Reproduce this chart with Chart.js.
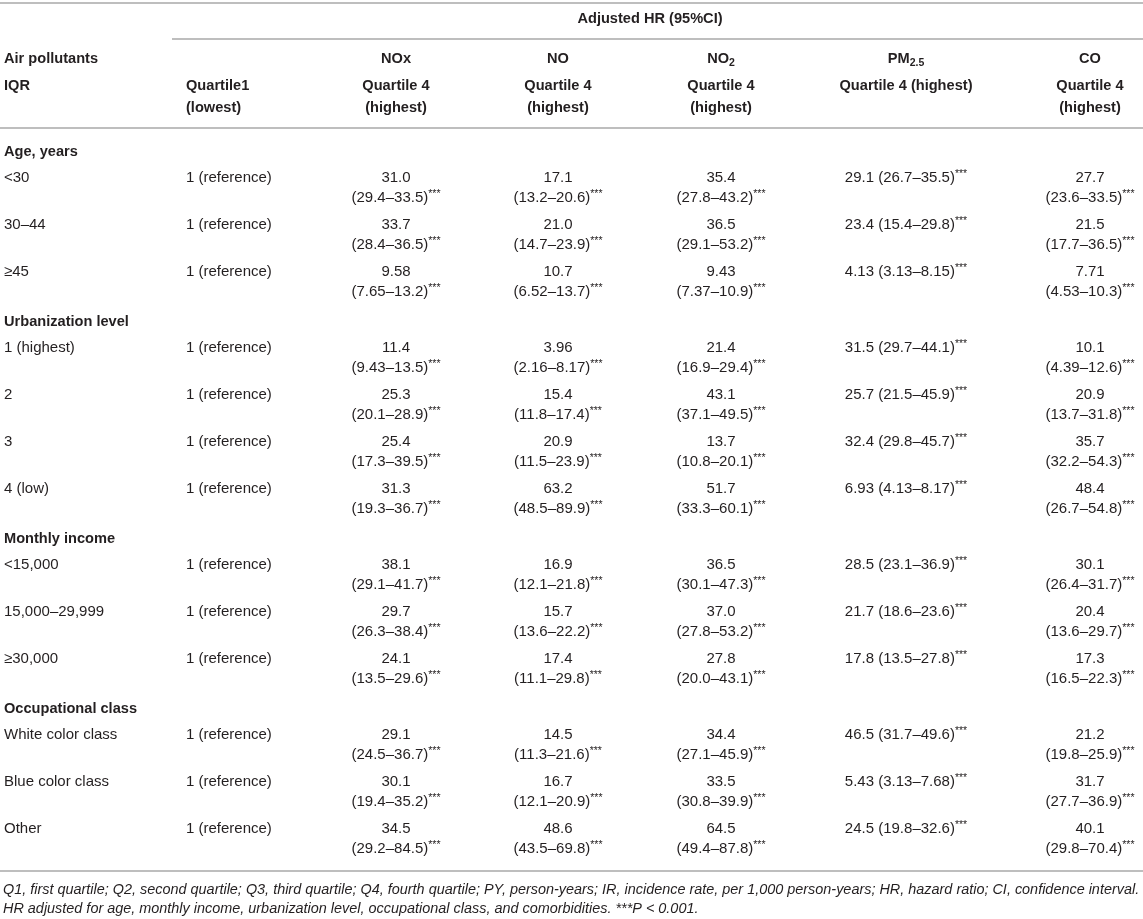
<!DOCTYPE html>
<html>
<head>
<meta charset="utf-8">
<title>Adjusted HR (95%CI)</title>
<script src="https://cdn.jsdelivr.net/npm/chart.js@4.4.1/dist/chart.umd.min.js"></script>
<style>
  html, body { margin: 0; padding: 0; background: #fff; }
  #wrap { width: 1143px; height: 919px; }
</style>
</head>
<body>
<div id="wrap"><canvas id="hrTable" width="1143" height="919"></canvas></div>
<script>
// ---- table data ----
const sections = ['Age, years', 'Urbanization level', 'Monthly income', 'Occupational class'];
const sectionSizes = [3, 4, 3, 3];
const rowLabels = ['<30', '30–44', '≥45', '1 (highest)', '2', '3', '4 (low)',
  '<15,000', '15,000–29,999', '≥30,000', 'White color class', 'Blue color class', 'Other'];
const referenceText = '1 (reference)';

const noxHR   = [31.0, 33.7, 9.58, 11.4, 25.3, 25.4, 31.3, 38.1, 29.7, 24.1, 29.1, 30.1, 34.5];
const noxLow  = [29.4, 28.4, 7.65, 9.43, 20.1, 17.3, 19.3, 29.1, 26.3, 13.5, 24.5, 19.4, 29.2];
const noxHigh = [33.5, 36.5, 13.2, 13.5, 28.9, 39.5, 36.7, 41.7, 38.4, 29.6, 36.7, 35.2, 84.5];

const noHR   = [17.1, 21.0, 10.7, 3.96, 15.4, 20.9, 63.2, 16.9, 15.7, 17.4, 14.5, 16.7, 48.6];
const noLow  = [13.2, 14.7, 6.52, 2.16, 11.8, 11.5, 48.5, 12.1, 13.6, 11.1, 11.3, 12.1, 43.5];
const noHigh = [20.6, 23.9, 13.7, 8.17, 17.4, 23.9, 89.9, 21.8, 22.2, 29.8, 21.6, 20.9, 69.8];

const no2HR   = [35.4, 36.5, 9.43, 21.4, 43.1, 13.7, 51.7, 36.5, 37.0, 27.8, 34.4, 33.5, 64.5];
const no2Low  = [27.8, 29.1, 7.37, 16.9, 37.1, 10.8, 33.3, 30.1, 27.8, 20.0, 27.1, 30.8, 49.4];
const no2High = [43.2, 53.2, 10.9, 29.4, 49.5, 20.1, 60.1, 47.3, 53.2, 43.1, 45.9, 39.9, 87.8];

const pm25HR   = [29.1, 23.4, 4.13, 31.5, 25.7, 32.4, 6.93, 28.5, 21.7, 17.8, 46.5, 5.43, 24.5];
const pm25Low  = [26.7, 15.4, 3.13, 29.7, 21.5, 29.8, 4.13, 23.1, 18.6, 13.5, 31.7, 3.13, 19.8];
const pm25High = [35.5, 29.8, 8.15, 44.1, 45.9, 45.7, 8.17, 36.9, 23.6, 27.8, 49.6, 7.68, 32.6];

const coHR   = [27.7, 21.5, 7.71, 10.1, 20.9, 35.7, 48.4, 30.1, 20.4, 17.3, 21.2, 31.7, 40.1];
const coLow  = [23.6, 17.7, 4.53, 4.39, 13.7, 32.2, 26.7, 26.4, 13.6, 16.5, 19.8, 27.7, 29.8];
const coHigh = [33.5, 36.5, 10.3, 12.6, 31.8, 54.3, 54.8, 31.7, 29.7, 22.3, 25.9, 36.9, 70.4];

const footnotes = [
  'Q1, first quartile; Q2, second quartile; Q3, third quartile; Q4, fourth quartile; PY, person-years; IR, incidence rate, per 1,000 person-years; HR, hazard ratio; CI, confidence interval.',
  'HR adjusted for age, monthly income, urbanization level, occupational class, and comorbidities. ***P < 0.001.'
];

// ---- layout (canvas units, mapped through the scales) ----
const W = 1143, H = 919;
const FAM = '"Liberation Sans", Arial, Helvetica, sans-serif';
const TEXT = '#231f20';
const RULE = '#a9a9a9';
const labelX = 4, q1X = 186;
const colX = [396, 558, 721, 906, 1090];
const firstSectionY = 152, sectionToRow = 26, rowPitch = 47, rowToSection = 50, ciGap = 20;

const pollutants = [
  { name: [['NOx']], hr: noxHR, lo: noxLow, hi: noxHigh, oneLine: false },
  { name: [['NO']], hr: noHR, lo: noLow, hi: noHigh, oneLine: false },
  { name: [['NO'], ['2', 'sub']], hr: no2HR, lo: no2Low, hi: no2High, oneLine: false },
  { name: [['PM'], ['2.5', 'sub']], hr: pm25HR, lo: pm25Low, hi: pm25High, oneLine: true },
  { name: [['CO']], hr: coHR, lo: coLow, hi: coHigh, oneLine: false }
];

// row positions
const sectionY = [];
const rowY = [];
let y = firstSectionY;
sectionSizes.forEach(n => {
  sectionY.push(y);
  y += sectionToRow;
  for (let i = 0; i < n; i++) {
    rowY.push(y);
    if (i < n - 1) y += rowPitch;
  }
  y += rowToSection;
});
const bottomRuleY = rowY[rowY.length - 1] + 42;

const fmt = v => v.toPrecision(3);

// ---- datasets: one point per cell ----
const datasets = [];
datasets.push({ label: 'sections', data: sectionY.map(v => ({ x: labelX, y: v })), cell: i => [[sections[i], 'bold']], align: 'left' });
datasets.push({ label: 'rows', data: rowY.map(v => ({ x: labelX, y: v })), cell: i => [[rowLabels[i]]], align: 'left' });
datasets.push({ label: 'Q1', data: rowY.map(v => ({ x: q1X, y: v })), cell: () => [[referenceText]], align: 'left' });
pollutants.forEach((p, c) => {
  datasets.push({
    label: p.name.map(r => r[0]).join(''),
    data: rowY.map(v => ({ x: colX[c], y: v })),
    align: 'center',
    cell: i => {
      const ci = '(' + fmt(p.lo[i]) + '–' + fmt(p.hi[i]) + ')';
      if (p.oneLine) return [[fmt(p.hr[i]) + ' ' + ci], ['***', 'star']];
      return { lines: [[[fmt(p.hr[i])]], [[ci], ['***', 'star']]] };
    }
  });
});
datasets.forEach(d => { d.pointRadius = 0; d.pointHoverRadius = 0; d.showLine = false; });

// text runs: [text, style]
function runFont(style) {
  if (style === 'bold') return 'bold 14.6px ' + FAM;
  if (style === 'sub') return 'bold 10.5px ' + FAM;
  if (style === 'star') return '10.5px ' + FAM;
  return '15px ' + FAM;
}
function runShift(style) {
  if (style === 'sub') return 4;
  if (style === 'star') return -4;
  return 0;
}
function drawRuns(ctx, runs, x, y, align, baseStyle) {
  const parts = runs.map(r => {
    const style = r[1] || baseStyle;
    ctx.font = runFont(style);
    return { t: r[0], style, w: ctx.measureText(r[0]).width };
  });
  const total = parts.reduce((s, p) => s + p.w, 0);
  let cx = align === 'center' ? x - total / 2 : x;
  parts.forEach(p => {
    ctx.font = runFont(p.style);
    ctx.textAlign = 'left';
    ctx.fillText(p.t, cx, y + runShift(p.style));
    cx += p.w;
  });
}

const tablePlugin = {
  id: 'tablePlugin',
  afterDatasetsDraw(chart) {
    const ctx = chart.ctx;
    const xs = chart.scales.x, ys = chart.scales.y;
    const px = v => xs.getPixelForValue(v);
    const py = v => ys.getPixelForValue(v);
    ctx.save();
    ctx.fillStyle = TEXT;
    ctx.textBaseline = 'middle';

    // rules
    ctx.strokeStyle = RULE;
    ctx.lineWidth = 1.5;
    const rule = (x0, x1, yv) => {
      ctx.beginPath();
      ctx.moveTo(px(x0), py(yv));
      ctx.lineTo(px(x1), py(yv));
      ctx.stroke();
    };
    rule(0, W, 3);
    rule(172, W, 39);
    rule(0, W, 128);
    rule(0, W, bottomRuleY);

    // header
    drawRuns(ctx, [['Adjusted HR (95%CI)']], px(650), py(19), 'center', 'bold');
    drawRuns(ctx, [['Air pollutants']], px(labelX), py(59), 'left', 'bold');
    drawRuns(ctx, [['IQR']], px(labelX), py(86), 'left', 'bold');
    drawRuns(ctx, [['Quartile1']], px(q1X), py(86), 'left', 'bold');
    drawRuns(ctx, [['(lowest)']], px(q1X), py(108), 'left', 'bold');
    pollutants.forEach((p, c) => {
      drawRuns(ctx, p.name, px(colX[c]), py(59), 'center', 'bold');
      if (p.oneLine) {
        drawRuns(ctx, [['Quartile 4 (highest)']], px(colX[c]), py(86), 'center', 'bold');
      } else {
        drawRuns(ctx, [['Quartile 4']], px(colX[c]), py(86), 'center', 'bold');
        drawRuns(ctx, [['(highest)']], px(colX[c]), py(108), 'center', 'bold');
      }
    });

    // cells at the points laid out by the scatter controller
    chart.data.datasets.forEach((ds, di) => {
      const meta = chart.getDatasetMeta(di);
      meta.data.forEach((el, i) => {
        const content = ds.cell(i);
        if (content.lines) {
          content.lines.forEach((ln, k) => {
            drawRuns(ctx, ln, el.x, el.y + k * (py(ciGap) - py(0)), ds.align, 'normal');
          });
        } else {
          drawRuns(ctx, content, el.x, el.y, ds.align, 'normal');
        }
      });
    });

    // footnotes, sized so the first line spans the table width
    ctx.font = 'italic 14px ' + FAM;
    const fs = Math.min(15, 14 * (px(W) - px(6)) / ctx.measureText(footnotes[0]).width);
    ctx.font = 'italic ' + fs.toFixed(2) + 'px ' + FAM;
    ctx.textAlign = 'left';
    footnotes.forEach((f, k) => {
      ctx.fillText(f, px(3), py(bottomRuleY + 19 + k * 19));
    });
    ctx.restore();
  }
};

new Chart(document.getElementById('hrTable'), {
  type: 'scatter',
  data: { datasets },
  options: {
    responsive: false,
    animation: false,
    events: [],
    layout: { padding: 0 },
    plugins: { legend: { display: false }, tooltip: { enabled: false } },
    scales: {
      x: { type: 'linear', min: 0, max: W, display: false },
      y: { type: 'linear', min: 0, max: H, reverse: true, display: false }
    }
  },
  plugins: [tablePlugin]
});
</script>
</body>
</html>
